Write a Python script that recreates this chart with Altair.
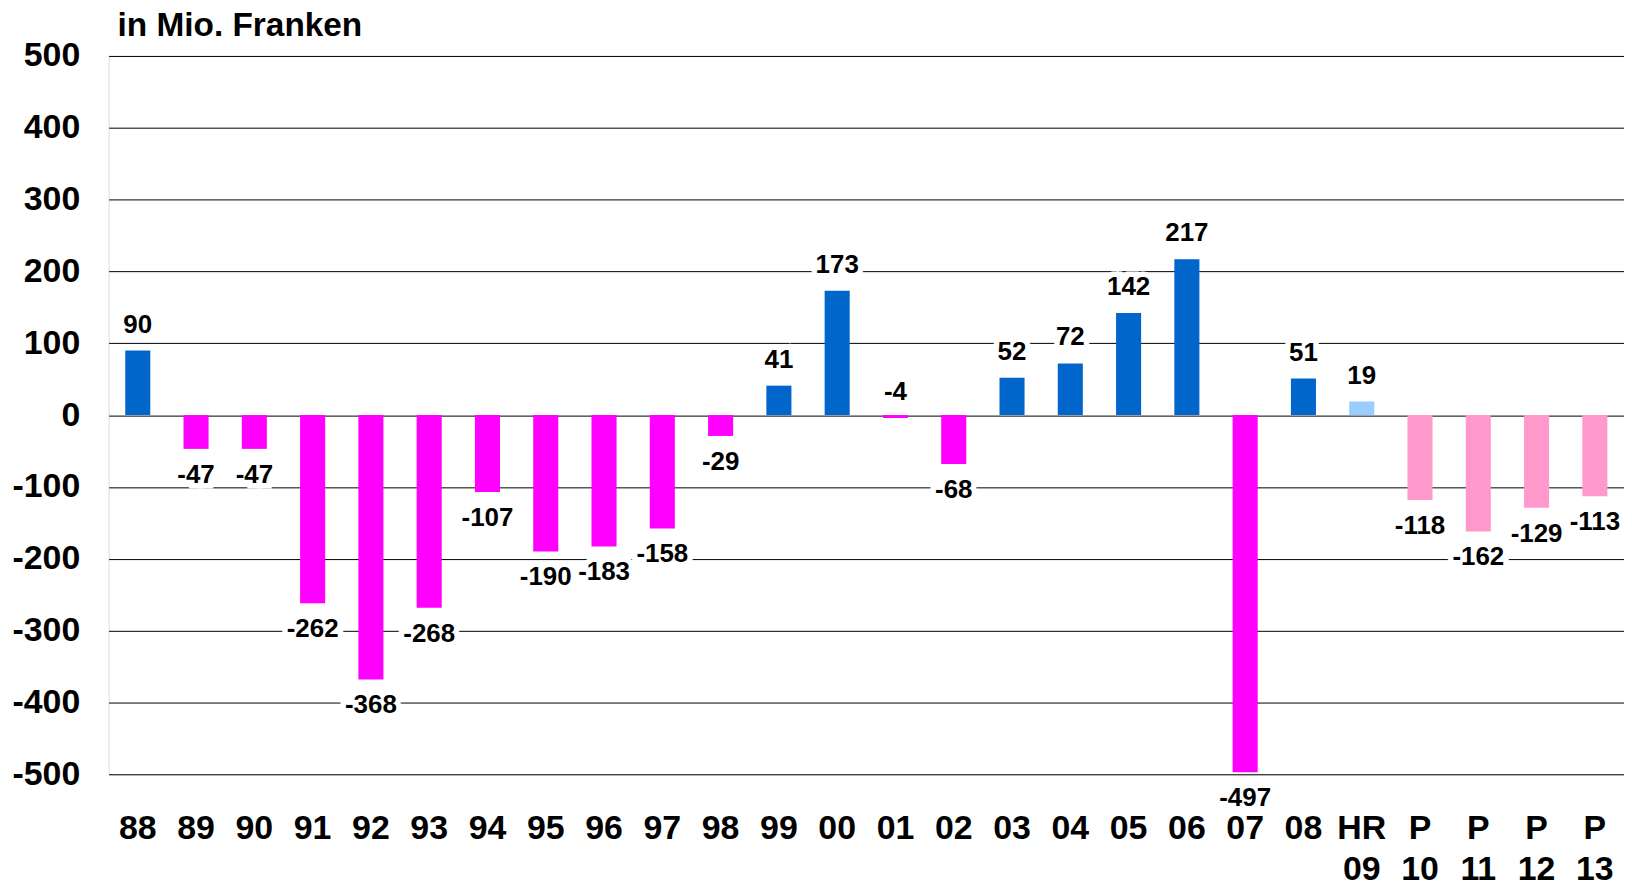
import altair as alt
import pandas as pd

categories = ["88", "89", "90", "91", "92", "93", "94", "95", "96", "97", "98", "99",
              "00", "01", "02", "03", "04", "05", "06", "07", "08",
              "HR 09", "P 10", "P 11", "P 12", "P 13"]
values = [90, -47, -47, -262, -368, -268, -107, -190, -183, -158, -29, 41,
          173, -4, -68, 52, 72, 142, 217, -497, 51,
          19, -118, -162, -129, -113]
kinds = ["actual"] * 21 + ["hr"] + ["plan"] * 4
y_ticks = [500, 400, 300, 200, 100, 0, -100, -200, -300, -400, -500]

df = pd.DataFrame({"cat": categories, "v": values, "kind": kinds})

FONT = "Liberation Sans"

base = alt.Chart(df).transform_calculate(
    grp="datum.kind == 'actual' ? (datum.v >= 0 ? 'pos' : 'neg') : datum.kind",
    lbl="'' + datum.v",
)

x = alt.X("cat:N", sort=categories, title=None,
          scale=alt.Scale(paddingInner=0.57, paddingOuter=0.285),
          axis=alt.Axis(orient="bottom", domain=False, ticks=False, tickSize=0,
                        labelAngle=0, labelFontSize=34, labelFontWeight="bold",
                        labelFont=FONT, labelColor="black",
                        labelExpr="split(datum.label, ' ')",
                        labelLineHeight=41.5, labelPadding=37, grid=False))
y = alt.Y("v:Q", title=None,
          scale=alt.Scale(domain=[-500, 500], nice=False, zero=True),
          axis=alt.Axis(values=y_ticks, grid=True, gridColor="black", gridWidth=1,
                        gridOpacity=1, domain=False, ticks=False, tickSize=0,
                        labelExpr="'' + datum.value",
                        labelPadding=29, labelFontSize=34, labelFontWeight="bold",
                        labelFont=FONT, labelColor="black"))

bars = base.mark_bar().encode(
    x=x, y=y,
    color=alt.Color("grp:N", legend=None,
                    scale=alt.Scale(domain=["pos", "neg", "hr", "plan"],
                                    range=["#0066CC", "#FF00FF", "#99CCFF", "#FF99CC"])),
)

def labels(cond, dy):
    layer_bg = base.transform_filter(cond).mark_text(
        font=FONT, fontSize=26, fontWeight="bold", baseline="middle", dy=dy,
        color="white", stroke="white", strokeWidth=11, strokeJoin="miter"
    ).encode(x=alt.X("cat:N", sort=categories), y="v:Q", text="lbl:N")
    layer_fg = base.transform_filter(cond).mark_text(
        font=FONT, fontSize=26, fontWeight="bold", baseline="middle", dy=dy,
        color="black"
    ).encode(x=alt.X("cat:N", sort=categories), y="v:Q", text="lbl:N")
    return layer_bg, layer_fg

up_bg, up_fg = labels("datum.v > -10", -26)
dn_bg, dn_fg = labels("datum.v <= -10", 26)

chart = alt.layer(bars, up_bg, dn_bg, up_fg, dn_fg).properties(
    width=1521, height=721,
    title=alt.TitleParams("in Mio. Franken", anchor="start", frame="group",
                          font=FONT, fontSize=33.5, fontWeight="bold", color="black",
                          dx=9, dy=5, offset=1),
    autosize=alt.AutoSizeParams(type="none"),
    padding={"left": 101, "top": 46.5, "right": 0, "bottom": 110},
).configure_view(stroke=None).configure(background="white")

chart.save("out.html", embed_options={"renderer": "svg", "actions": False})
